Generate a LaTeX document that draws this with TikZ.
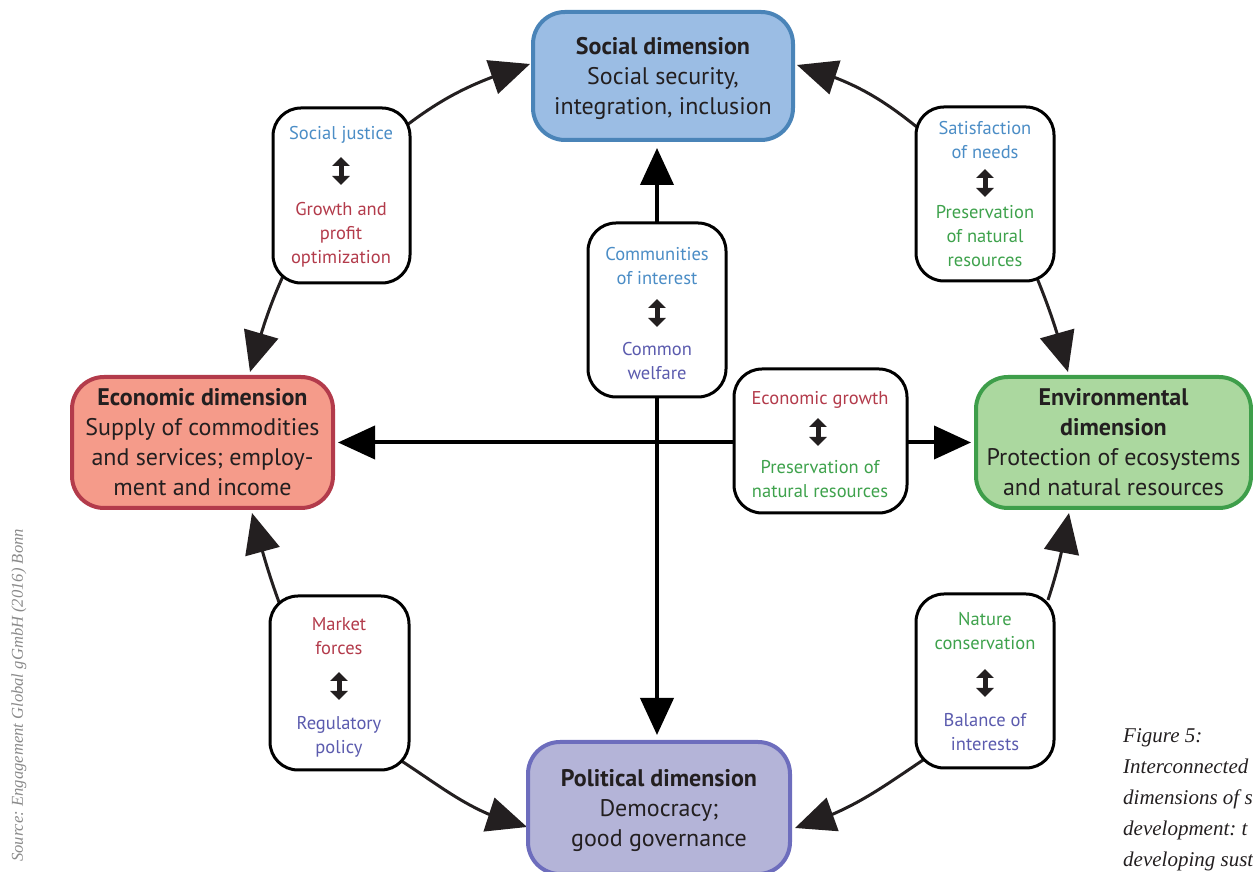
\documentclass[tikz,border=0pt]{standalone}
\usepackage{fontspec}
\setmainfont{PT Sans}
\newfontfamily\capfont{Liberation Serif}
\usetikzlibrary{arrows.meta,bending,calc,backgrounds}
\definecolor{txt}{HTML}{231F20}
\definecolor{socfill}{HTML}{9BBDE4}
\definecolor{socline}{HTML}{4A84B8}
\definecolor{ecofill}{HTML}{F59B8A}
\definecolor{ecoline}{HTML}{B33B4B}
\definecolor{envfill}{HTML}{ABD89F}
\definecolor{envline}{HTML}{3E9E4A}
\definecolor{polfill}{HTML}{B4B4D8}
\definecolor{polline}{HTML}{6D6DBD}
\definecolor{tblue}{HTML}{4B8DC6}
\definecolor{tred}{HTML}{B33B4B}
\definecolor{tgreen}{HTML}{3EA24C}
\definecolor{tpurple}{HTML}{5B5BAE}
\definecolor{srcgray}{HTML}{8A8A8A}
\frenchspacing
\newcommand\firststrut{\rule{0pt}{26pt}}
\begin{document}
\begin{tikzpicture}[x=1pt,y=1pt,
 mainbox/.style={draw, line width=4pt, rounded corners=32pt, align=center, text=txt, font=\fontsize{24}{30}\selectfont, inner sep=0pt},
 smallbox/.style={draw=black, fill=white, line width=3pt, rounded corners=28pt, inner sep=0pt},
 smalltext/.style={align=center, font=\fontsize{18.5}{24}\selectfont, inner sep=0pt},
 dblarrow/.style={line width=5pt, draw=txt, {Triangle[length=9pt,width=17pt]}-{Triangle[length=9pt,width=17pt]}},
 straightarr/.style={line width=4pt, draw=black, {Triangle[length=37pt,width=33pt]}-{Triangle[length=37pt,width=33pt]}},
 curvearr/.style={line width=3pt, draw=txt, -{Triangle[length=40pt,width=35pt]}},
]
\useasboundingbox (0,0) rectangle (1253,872);

% main dimension boxes
\node[mainbox, fill=socfill, draw=socline, minimum width=260pt, minimum height=128pt] (soc) at (663,796)
 {\firststrut\textbf{Social dimension}\\\strut Social security,\\\strut integration, inclusion};
\node[mainbox, fill=ecofill, draw=ecoline, minimum width=261pt, minimum height=131pt] (eco) at (202.5,429.5)
 {\firststrut\textbf{Economic dimension}\\\strut Supply of commodities\\\strut and services; employ-\\\strut ment and income};
\node[mainbox, fill=envfill, draw=envline, minimum width=275pt, minimum height=131pt] (env) at (1113.5,429.5)
 {\firststrut\textbf{Environmental}\\\strut\textbf{dimension}\\\strut Protection of ecosystems\\\strut and natural resources};
\node[mainbox, fill=polfill, draw=polline, minimum width=262pt, minimum height=132pt] (pol) at (659,64)
 {\firststrut\textbf{Political dimension}\\\strut Democracy;\\\strut good governance};

% small tension boxes
\node[smallbox, minimum width=137pt, minimum height=175pt] (sj) at (341.5,676.5) {};
\node[smalltext, text=tblue] (sjt) at (341,737) {\strut Social justice};
\node[smalltext, text=tred] (sjb) at (341,637.5) {\strut Growth and\\\strut profit\\\strut optimization};
\coordinate (sja) at (341,715); \coordinate (sjz) at (341,687);

\node[smallbox, minimum width=138pt, minimum height=174pt] (sat) at (985,678) {};
\node[smalltext, text=tblue] (satt) at (985,730.5) {\strut Satisfaction\\\strut of needs};
\node[smalltext, text=tgreen] (satb) at (985,634) {\strut Preservation\\\strut of natural\\\strut resources};
\coordinate (sata) at (985,703); \coordinate (satz) at (985,675);

\node[smallbox, minimum width=138pt, minimum height=174pt] (com) at (657,562) {};
\node[smalltext, text=tblue] (comt) at (657,604.5) {\strut Communities\\\strut of interest};
\node[smalltext, text=tpurple] (comb) at (657,509.5) {\strut Common\\\strut welfare};
\coordinate (coma) at (657,573); \coordinate (comz) at (657,545);

\node[smallbox, minimum width=173pt, minimum height=144pt] (eg) at (820.5,431) {};
\node[smalltext, text=tred] (egt) at (820,472) {\strut Economic growth};
\node[smalltext, text=tgreen] (egb) at (820,391) {\strut Preservation of\\\strut natural resources};
\coordinate (ega) at (818,454); \coordinate (egz) at (818,426);

\node[smallbox, minimum width=139pt, minimum height=174pt] (mk) at (339.5,189) {};
\node[smalltext, text=tred] (mkt) at (339,234) {\strut Market\\\strut forces};
\node[smalltext, text=tpurple] (mkb) at (339,135) {\strut Regulatory\\\strut policy};
\coordinate (mka) at (339,200); \coordinate (mkz) at (339,172);

\node[smallbox, minimum width=138pt, minimum height=174pt] (nat) at (985,191) {};
\node[smalltext, text=tgreen] (natt) at (985,239) {\strut Nature\\\strut conservation};
\node[smalltext, text=tpurple] (natb) at (985,138) {\strut Balance of\\\strut interests};
\coordinate (nata) at (985,203); \coordinate (natz) at (985,175);

\foreach \p in {sj,sat,com,eg,mk,nat}{\draw[dblarrow] (\p a) -- (\p z);}

% connectors behind the boxes
\begin{scope}[on background layer]
\draw[straightarr, shorten <=6pt, shorten >=5pt] (com |- soc.south) -- (com |- pol.north);
\draw[straightarr, shorten <=3pt, shorten >=3pt] (eco.east) -- (env.west);
\draw[curvearr] ($(sj.center)+(65.5,70.5)$) to[out=37,in=198] ($(soc.center)+(-133,12)$);
\draw[curvearr] ($(sj.center)+(-58.5,-80.5)$) to[out=-114,in=74] ($(eco.center)+(47.5,70.5)$);
\draw[curvearr] ($(sat.center)+(-67,66)$) to[out=141,in=-16] ($(soc.center)+(134,11)$);
\draw[curvearr] ($(sat.center)+(52,-84)$) to[out=-68,in=105] ($(env.center)+(-45.5,70.5)$);
\draw[curvearr] ($(mk.center)+(-59.5,78)$) to[out=110,in=-75] ($(eco.center)+(49.5,-70.5)$);
\draw[curvearr] ($(mk.center)+(60.5,-77)$) to[out=-33,in=166] ($(pol.center)+(-132,-19)$);
\draw[curvearr] ($(nat.center)+(-59,-77)$) to[out=214,in=17] ($(pol.center)+(136,-20)$);
\draw[curvearr] ($(nat.center)+(63,81)$) to[out=72,in=-100] ($(env.center)+(-44.5,-70.5)$);
\end{scope}

% caption and source
\node[anchor=north west, inner sep=0pt, align=left, text=txt, font=\capfont\itshape\fontsize{21}{31}\selectfont] (cap) at (1123,151)
 {\strut Figure 5:\\\strut Interconnected\\\strut dimensions of s\\\strut development: t\\\strut developing sust};
\node[rotate=90, anchor=base west, inner sep=0pt, text=srcgray, font=\capfont\itshape\fontsize{16.6}{20}\selectfont] (src) at (23,10)
 {Source: Engagement Global gGmbH (2016) Bonn};
\end{tikzpicture}
\end{document}
